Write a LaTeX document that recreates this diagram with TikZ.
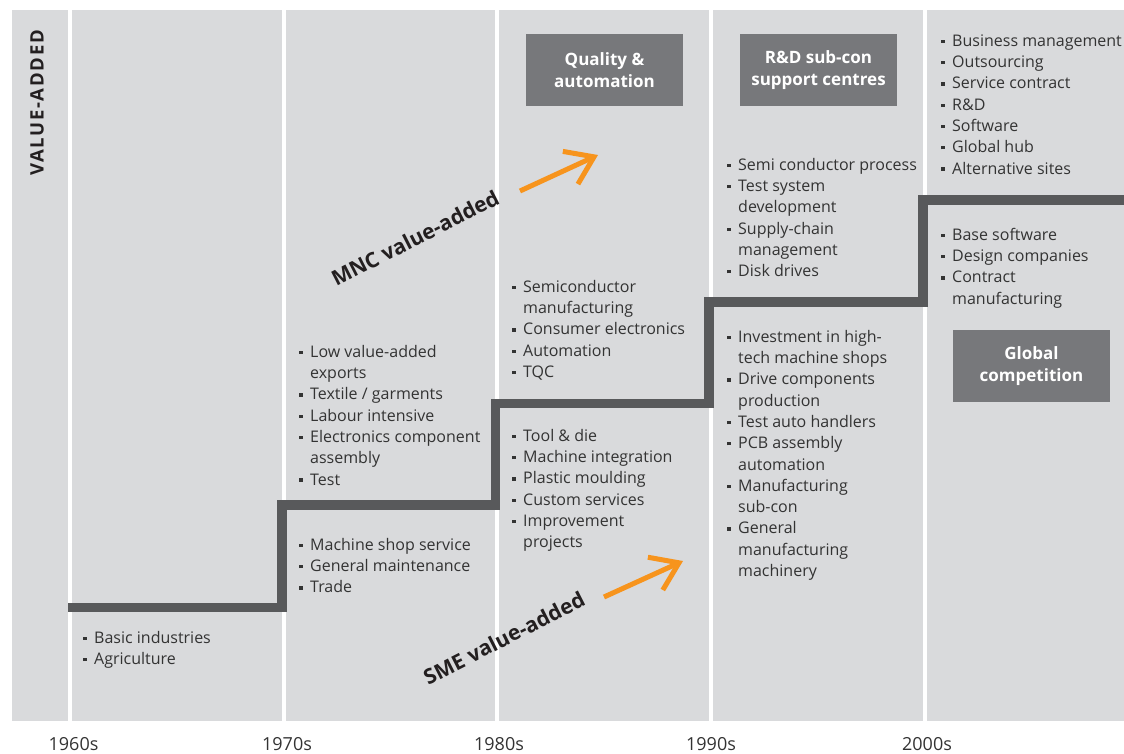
\documentclass[tikz,border=0pt]{standalone}
\usepackage{fontspec}
\setmainfont{Open Sans}
\usetikzlibrary{arrows.meta}
\definecolor{panelc}{HTML}{D9DADC}
\definecolor{stairc}{HTML}{58595B}
\definecolor{boxc}{HTML}{77787B}
\definecolor{orangec}{HTML}{F7941D}
\definecolor{txtc}{HTML}{333333}
\definecolor{darkc}{HTML}{231F20}
\newcommand\bul{\strut\makebox[11pt][l]{\rule[3.3pt]{3.3pt}{3.3pt}}}
\newcommand\ind{\strut\hspace*{11pt}}
\begin{document}
\begin{tikzpicture}[x=1pt,y=-1pt,
  panel/.style={fill=panelc,draw=none},
  stairline/.style={draw=stairc,line width=9.5pt,line join=miter},
  list/.style={anchor=north west,inner sep=0pt,align=left,text=txtc,font=\fontsize{16}{21.3}\selectfont},
  tag/.style={fill=boxc,text=white,font=\bfseries\fontsize{17}{22}\selectfont,align=center,inner sep=0pt,minimum width=157pt,minimum height=72pt},
  year/.style={text=txtc,font=\fontsize{18}{22}\selectfont,anchor=base,inner sep=0pt},
  trend/.style={font=\bfseries\fontsize{21}{24}\selectfont,text=darkc,rotate=27,inner sep=0pt},
  growarrow/.style={draw=orangec,line width=5pt,-{Straight Barb[length=26pt,width=36pt]}}
]
\useasboundingbox (0,0) rectangle (1124,753);
% panels
\fill[panel] (12,10) rectangle (68,721);
\fill[panel] (72,10) rectangle (282,721);
\fill[panel] (286,10) rectangle (495,721);
\fill[panel] (499,10) rectangle (709,721);
\fill[panel] (713,10) rectangle (923,721);
\fill[panel] (927,10) rectangle (1124,721);
% axis label
\node[rotate=90,text=darkc,font=\bfseries\fontsize{18.5}{22}\selectfont\addfontfeature{LetterSpace=9},inner sep=0pt] (vaxis) at (37,103) {VALUE-ADDED};
% staircase
\coordinate (s0) at (68,607.5);
\coordinate (s1) at (282,505);
\coordinate (s2) at (495.5,403.5);
\coordinate (s3) at (709,302);
\coordinate (s4) at (923,200);
\coordinate (s5) at (1124,200);
\draw[stairline] (s0) -| (s1) -| (s2) -| (s3) -| (s4) -- (s5);
% tags
\node[tag] (qa) at (604.5,70) {Quality \&\\automation};
\node[tag] (rd) at (818.5,70) {R\&D sub-con\\support centres};
\node[tag] (gc) at (1031.5,366) {Global\\competition};
% lists
\node[list] (l60) at (83,628.1) {\bul Basic industries\\\bul Agriculture};
\node[list] (l70u) at (299,342.1) {\bul Low value-added\\\ind exports\\\bul Textile / garments\\\bul Labour intensive\\\bul Electronics component\\\ind assembly\\\bul Test};
\node[list] (l70l) at (299,535.1) {\bul Machine shop service\\\bul General maintenance\\\bul Trade};
\node[list] (l80u) at (512,277.1) {\bul Semiconductor\\\ind manufacturing\\\bul Consumer electronics\\\bul Automation\\\bul TQC};
\node[list] (l80l) at (512,426.1) {\bul Tool \& die\\\bul Machine integration\\\bul Plastic moulding\\\bul Custom services\\\bul Improvement\\\ind projects};
\node[list] (l90u) at (727,155.1) {\bul Semi conductor process\\\bul Test system\\\ind development\\\bul Supply-chain\\\ind management\\\bul Disk drives};
\node[list] (l90l) at (727,327.1) {\bul Investment in high-\\\ind tech machine shops\\\bul Drive components\\\ind production\\\bul Test auto handlers\\\bul PCB assembly\\\ind automation\\\bul Manufacturing\\\ind sub-con\\\bul General\\\ind manufacturing\\\ind machinery};
\node[list] (l00u) at (941,31.1) {\bul Business management\\\bul Outsourcing\\\bul Service contract\\\bul R\&D\\\bul Software\\\bul Global hub\\\bul Alternative sites};
\node[list] (l00l) at (941,225.1) {\bul Base software\\\bul Design companies\\\bul Contract\\\ind manufacturing};
% trend labels and arrows
\node[trend] (mnc) at (415,238) {MNC value-added};
\node[trend] (sme) at (504,638) {SME value-added};
\coordinate (mncA) at (520,191);
\coordinate (mncB) at (598,155);
\coordinate (smeA) at (604,597);
\coordinate (smeB) at (683,561);
\draw[growarrow] (mncA) -- (mncB);
\draw[growarrow] (smeA) -- (smeB);
% years
\node[year] (y60) at (73.5,750) {1960s};
\node[year] (y70) at (287,750) {1970s};
\node[year] (y80) at (499,750) {1980s};
\node[year] (y90) at (711,750) {1990s};
\node[year] (y00) at (927,750) {2000s};
\end{tikzpicture}
\end{document}
